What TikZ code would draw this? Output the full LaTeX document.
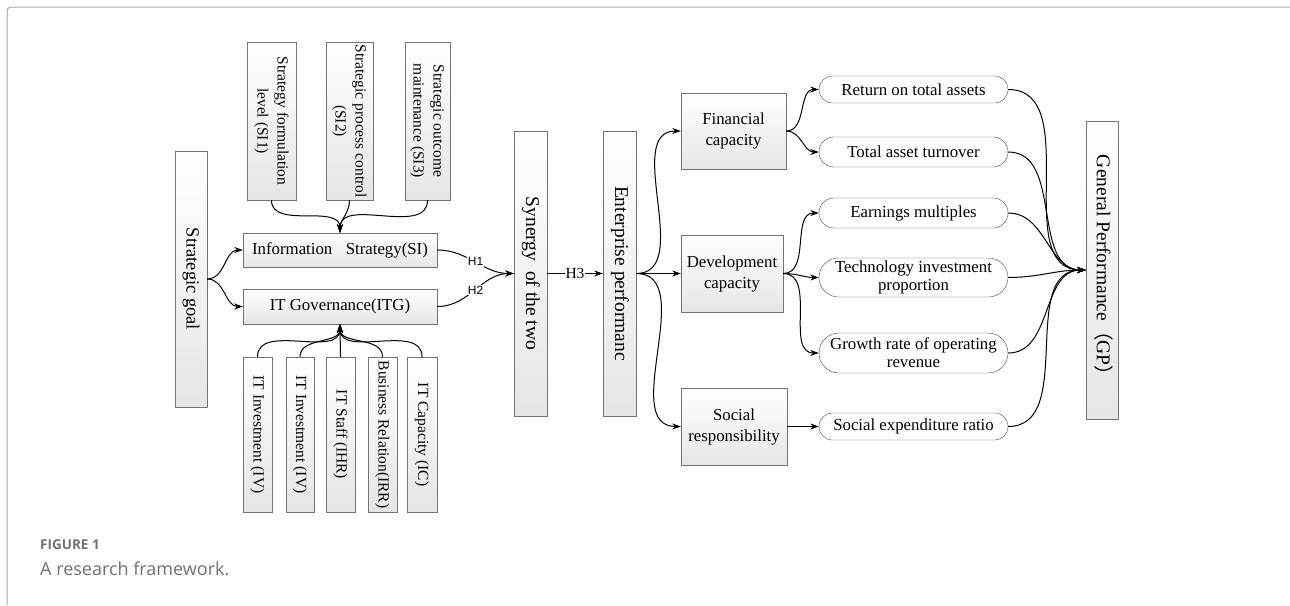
\documentclass[tikz,border=0pt]{standalone}
\usepackage{fontspec}
\usepackage{graphicx}
\setmainfont{Liberation Serif}
\newfontfamily\hfont{Liberation Sans}
\newfontfamily\capfont{Open Sans}
\newfontfamily\cjk{Noto Sans CJK SC}
\usetikzlibrary{positioning,arrows.meta,shapes.misc}
\definecolor{capgray}{HTML}{707070}
\newcommand{\vlabel}[1]{\rotatebox{-90}{\begin{tabular}{@{}c@{}}#1\end{tabular}}}

\begin{document}
\begin{tikzpicture}
        [x=1pt,y=1pt,>={Stealth[length=8.5pt,width=6pt]},
         link/.style={->,line width=1pt},
         box/.style={draw=black!55,top color=white,bottom color=black!10,inner sep=0pt,
                     align=center,font=\rmfamily\fontsize{16.8}{21}\selectfont},
         vbox/.style={box,font=\rmfamily\fontsize{19.5}{22}\selectfont},
         tbox/.style={box,font=\rmfamily\fontsize{15.5}{20}\selectfont},
         oval/.style={rounded rectangle,draw=black!70,fill=white,minimum width=189,inner sep=0pt,
                      align=center,font=\rmfamily\fontsize{16.8}{18}\selectfont},
         hyp/.style={fill=white,inner sep=1pt,font=\hfont\fontsize{12}{12}\selectfont},
         hyps/.style={fill=white,inner sep=1pt,font=\rmfamily\fontsize{15.5}{16}\selectfont}]
        \useasboundingbox (0,0) rectangle (1290,-605);
        \draw[black!35,line width=1pt,rounded corners=4pt] (7,-605) -- (7,-7) -- (1290,-7);

        \node[vbox,minimum width=32,minimum height=256,font=\rmfamily\fontsize{18.5}{22}\selectfont] (goal) at (191,-279) {\vlabel{Strategic goal}};
        \node[box,minimum width=194,minimum height=34] (si) at (340,-250) {Information\hspace{0.8em}Strategy(SI)};
        \node[box,minimum width=194,minimum height=35] (itg) at (340,-306.5) {IT Governance(ITG)};

        \node[tbox,minimum width=49,minimum height=158] (si1) at (271.5,-121) {\vlabel{Strategy formulation\\level (SI1)}};
        \node[tbox,minimum width=47,minimum height=158] (si2) at (349.5,-121) {\vlabel{Strategic process control\\(SI2)}};
        \node[tbox,minimum width=45,minimum height=158] (si3) at (427.5,-121) {\vlabel{Strategic outcome\\maintenance (SI3)}};

        \node[tbox,minimum width=29,minimum height=155] (itv) at (257.5,-434.5) {\vlabel{IT Investment (IV)}};
        \node[tbox,minimum width=28,minimum height=155] (itva) at (300,-434.5) {\vlabel{IT Investment (IV)}};
        \node[tbox,minimum width=29,minimum height=155] (ihr) at (340.5,-434.5) {\vlabel{IT Staff (IHR)}};
        \node[tbox,minimum width=29,minimum height=155] (irr) at (382.5,-434.5) {\vlabel{Business Relation(IRR)}};
        \node[tbox,minimum width=30,minimum height=155] (ic) at (422,-434.5) {\vlabel{IT Capacity (IC)}};

        \node[vbox,minimum width=33,minimum height=285] (syn) at (530.5,-273.5) {\vlabel{Synergy\hspace{0.25em} of the two}};
        \node[vbox,minimum width=33,minimum height=285] (ent) at (619.5,-273.5) {\vlabel{Enterprise performanc}};

        \node[box,minimum width=105,minimum height=76] (fin) at (733.5,-131) {Financial\\capacity};
        \node[box,minimum width=102,minimum height=77] (dev) at (732,-273.5) {Development\\capacity};
        \node[box,minimum width=106,minimum height=77] (soc) at (734,-426.5) {Social\\responsibility};

        \node[oval,minimum height=27] (rta) at (913.5,-89.5) {Return on total assets};
        \node[oval,minimum height=30] (tat) at (913.5,-152) {Total asset turnover};
        \node[oval,minimum height=30] (em) at (913.5,-213) {Earnings multiples};
        \node[oval,minimum height=39] (tip) at (913.5,-277.5) {Technology investment\\proportion};
        \node[oval,minimum height=40] (gro) at (913.5,-353) {Growth rate of operating\\revenue};
        \node[oval,minimum height=27] (ser) at (913.5,-426.5) {Social expenditure ratio};

        \node[vbox,minimum width=32,minimum height=298] (gp) at (1102,-270) {\vlabel{General Performance{\cjk （}GP{\cjk ）}}};

        \foreach \from in {si1,si2,si3}
            \draw[link] (\from.south) to[out=-90,in=90] (si.north);
        \foreach \from in {itv,itva,ihr,irr,ic}
            \draw[link] (\from.north) to[out=90,in=-90] (itg.south);
        \foreach \to in {si,itg}
            \draw[link] (goal.east) to[out=0,in=180] (\to.west);
        \draw[link] (si.east) to[out=0,in=180] node[hyp] {H1} (syn.west);
        \draw[link] (itg.east) to[out=0,in=180] node[hyp] {H2} (syn.west);
        \draw[link] (syn.east) -- node[hyps] {H3} (ent.west);
        \foreach \to in {fin,dev,soc}
            \draw[link] (ent.east) to[out=0,in=180] (\to.west);
        \foreach \from/\to in {fin/rta,fin/tat,dev/em,dev/tip,dev/gro,soc/ser}
            \draw[link] (\from.east) to[out=0,in=180] (\to.west);
        \foreach \from in {rta,tat,em,tip,gro,ser}
            \draw[link] (\from.east) to[out=0,in=180] (gp.west);

        \node[anchor=west,inner sep=0pt,text=capgray,font=\capfont\bfseries\fontsize{13.5}{15}\selectfont] (fig) at (40,-545) {FIGURE 1};
        \node[anchor=west,inner sep=0pt,text=capgray,font=\capfont\fontsize{18}{20}\selectfont] (cap) at (40,-569) {A research framework.};
      \end{tikzpicture}
\end{document}
